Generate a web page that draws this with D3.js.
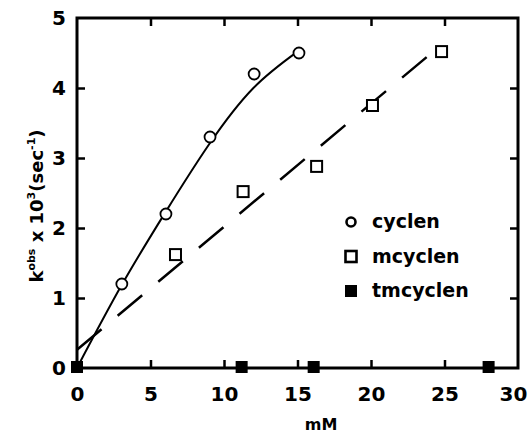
<!DOCTYPE html>
<html>
<head>
<meta charset="utf-8">
<script src="https://cdn.jsdelivr.net/npm/d3@7/dist/d3.min.js"></script>
<style>
  html, body { margin: 0; padding: 0; background: #fff; }
  svg { display: block; }
  text { font-family: "DejaVu Sans", sans-serif; font-weight: bold; fill: #000; }
</style>
</head>
<body>
<svg id="chart" width="530" height="435"></svg>
<script>
// ---- data ----
const xTicks = [0, 5, 10, 15, 20, 25, 30];
const yTicks = [0, 1, 2, 3, 4, 5];

const cyclenX = [3.05, 6.05, 9.05, 12.05, 15.1];
const cyclenY = [1.2, 2.2, 3.3, 4.2, 4.5];

const mcyclenX = [6.7, 11.3, 16.3, 20.1, 24.8];
const mcyclenY = [1.62, 2.52, 2.88, 3.75, 4.52];

const tmcyclenX = [0, 11.2, 16.1, 28.0];
const tmcyclenY = [0, 0, 0, 0];

// fitted curves
const cyclenFitX = [0, 3, 6, 9, 12, 15];
const cyclenFitY = [0, 1.17, 2.22, 3.2, 4.0, 4.52];
const mcyclenFitX = [0, 24.8];
const mcyclenFitY = [0.26, 4.62];

const legendLabels = ["cyclen", "mcyclen", "tmcyclen"];
const xTitle = "mM";

// ---- layout ----
const svg = d3.select("#chart");
const L = 77, R = 518, T = 18, B = 368;
const x = d3.scaleLinear().domain([0, 30]).range([L, R]);
const y = d3.scaleLinear().domain([0, 5]).range([B, T]);

const zip = (xs, ys) => xs.map((v, i) => [v, ys[i]]);

// axes
const axB = svg.append("g").attr("transform", `translate(0,${B})`)
  .call(d3.axisBottom(x).tickValues(xTicks).tickSizeInner(-8).tickSizeOuter(0).tickPadding(19).tickFormat(d3.format("d")));
const axL = svg.append("g").attr("transform", `translate(${L},0)`)
  .call(d3.axisLeft(y).tickValues(yTicks).tickSizeInner(-8).tickSizeOuter(0).tickPadding(11).tickFormat(d3.format("d")));
const axT = svg.append("g").attr("transform", `translate(0,${T})`)
  .call(d3.axisTop(x).tickValues(xTicks).tickSizeInner(-8).tickSizeOuter(0).tickFormat(""));
const axR = svg.append("g").attr("transform", `translate(${R},0)`)
  .call(d3.axisRight(y).tickValues(yTicks).tickSizeInner(-8).tickSizeOuter(0).tickFormat(""));

[axB, axL, axT, axR].forEach(g => {
  g.select(".domain").remove();
  g.selectAll(".tick line").attr("stroke", "#000").attr("stroke-width", 2.5)
    .filter(d => d === 0 || d === 30 || d === 5 && (g === axL || g === axR)).remove();
  g.selectAll(".tick text").style("font-size", "20px").style("font-family", "'DejaVu Sans', sans-serif").style("font-weight", "bold").attr("fill", "#000");
});
axB.selectAll(".tick text").filter(d => d === 30).attr("dx", -5);

// frame
svg.append("rect").attr("x", L).attr("y", T).attr("width", R - L).attr("height", B - T)
  .attr("fill", "none").attr("stroke", "#000").attr("stroke-width", 3);

// fitted lines
svg.append("path").datum(zip(cyclenFitX, cyclenFitY))
  .attr("d", d3.line().x(d => x(d[0])).y(d => y(d[1])).curve(d3.curveNatural))
  .attr("fill", "none").attr("stroke", "#000").attr("stroke-width", 2);
svg.append("path").datum(zip(mcyclenFitX, mcyclenFitY))
  .attr("d", d3.line().x(d => x(d[0])).y(d => y(d[1])))
  .attr("fill", "none").attr("stroke", "#000").attr("stroke-width", 2.5)
  .attr("stroke-dasharray", "32,21");

// markers
svg.append("g").selectAll("circle").data(zip(cyclenX, cyclenY)).join("circle")
  .attr("cx", d => x(d[0])).attr("cy", d => y(d[1])).attr("r", 5.5)
  .attr("fill", "#fff").attr("stroke", "#000").attr("stroke-width", 1.8);
const sq = 11;
svg.append("g").selectAll("rect").data(zip(mcyclenX, mcyclenY)).join("rect")
  .attr("x", d => x(d[0]) - sq / 2).attr("y", d => y(d[1]) - sq / 2)
  .attr("width", sq).attr("height", sq)
  .attr("fill", "#fff").attr("stroke", "#000").attr("stroke-width", 2);
const fs = 12;
svg.append("g").selectAll("rect").data(zip(tmcyclenX, tmcyclenY)).join("rect")
  .attr("x", d => x(d[0]) - fs / 2).attr("y", d => y(d[1]) - fs / 2 - 1)
  .attr("width", fs).attr("height", fs).attr("fill", "#000");

// legend
const legY = [222, 256.5, 291];
const lx = 351, tx = 372;
const lg = svg.append("g");
lg.append("circle").attr("cx", lx).attr("cy", legY[0]).attr("r", 4.5)
  .attr("fill", "#fff").attr("stroke", "#000").attr("stroke-width", 2.6);
lg.append("rect").attr("x", lx - 5.5).attr("y", legY[1] - 5.5).attr("width", 11).attr("height", 11)
  .attr("fill", "#fff").attr("stroke", "#000").attr("stroke-width", 2.6);
lg.append("rect").attr("x", lx - 6).attr("y", legY[2] - 6).attr("width", 12).attr("height", 12)
  .attr("fill", "#000");
lg.selectAll("text").data(legendLabels).join("text")
  .attr("x", tx).attr("y", (d, i) => legY[i] + 6)
  .style("font-size", "19px").text(d => d);

// x title
svg.append("text").attr("x", 321).attr("y", 430).attr("text-anchor", "middle")
  .style("font-size", "16px").text(xTitle);

// y title
const yt = svg.append("text").attr("transform", "translate(43,206) rotate(-90)")
  .attr("text-anchor", "middle").style("font-size", "18px");
yt.append("tspan").text("k");
yt.append("tspan").attr("dy", -8).style("font-size", "11px").text("obs");
yt.append("tspan").attr("dy", 8).text(" x 10");
yt.append("tspan").attr("dy", -8).style("font-size", "11px").text("3");
yt.append("tspan").attr("dy", 8).text("(sec");
yt.append("tspan").attr("dy", -8).style("font-size", "11px").text("-1");
yt.append("tspan").attr("dy", 8).text(")");
</script>
</body>
</html>
